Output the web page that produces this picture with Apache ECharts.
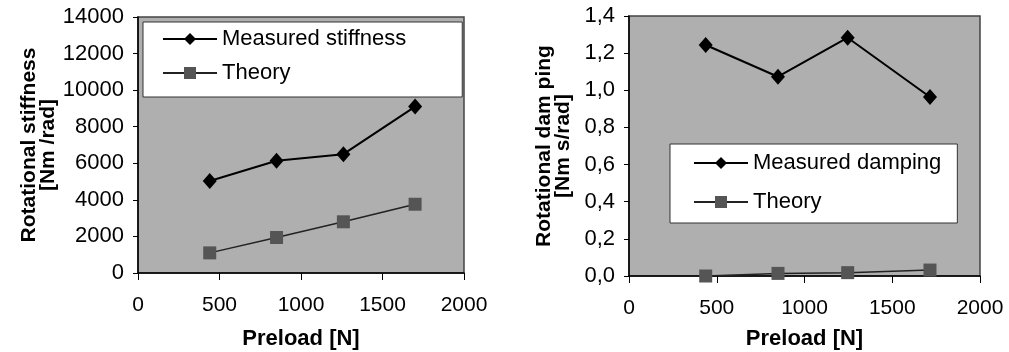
<!DOCTYPE html>
<html><head><meta charset="utf-8">
<script src="https://cdn.jsdelivr.net/npm/echarts@6/dist/echarts.min.js"></script>
<style>html,body{margin:0;padding:0;background:#fff}#c{width:1009px;height:352px}</style>
</head><body><div id="c"></div>
<script>
const preload = [440, 850, 1260, 1700];
const measuredStiffness = [5030, 6140, 6500, 9100];
const theoryStiffness = [1100, 1940, 2800, 3760];
const preloadDamping = [437, 849, 1246, 1715];
const measuredDamping = [1.244, 1.073, 1.283, 0.964];
const theoryDamping = [0.0, 0.014, 0.018, 0.032];
const xTicks = [0, 500, 1000, 1500, 2000];

const pairs = (xs, ys) => xs.map((x, i) => [x, ys[i]]);
const FONT = 'Liberation Sans, Arial, sans-serif';
const tickStyle = { fontFamily: FONT, fontSize: 22, color: '#000' };
const nameStyle = { fontFamily: FONT, fontSize: 21, fontWeight: 'bold', color: '#000', lineHeight: 19 };
const plotBg = '#afafaf';

function xAxis(gridIndex, gap) {
  return {
    type: 'value', gridIndex, min: 0, max: 2000, interval: 500,
    name: 'Preload [N]', nameLocation: 'middle', nameGap: gap,
    nameTextStyle: Object.assign({}, nameStyle, { fontSize: 22 }),
    axisLine: { show: true, onZero: false, lineStyle: { color: '#000', width: 1.5 } },
    axisTick: { show: true, length: 7, lineStyle: { color: '#000' } },
    axisLabel: Object.assign({ margin: 22, formatter: v => xTicks.includes(v) ? String(v) : '' }, tickStyle, { fontSize: 21 }),
    splitLine: { show: false }
  };
}

const chart = echarts.init(document.getElementById('c'), null, { renderer: 'canvas' });
chart.setOption({
  animation: false,
  backgroundColor: '#fff',
  grid: [
    { left: 138, right: 545, top: 17, bottom: 79, outerBoundsMode: 'none', containLabel: false, show: true, backgroundColor: plotBg, borderColor: '#444', borderWidth: 1.5 },
    { left: 629, right: 29, top: 16, bottom: 76, outerBoundsMode: 'none', containLabel: false, show: true, backgroundColor: plotBg, borderColor: '#444', borderWidth: 1.5 }
  ],
  xAxis: [xAxis(0, 56), xAxis(1, 53)],
  yAxis: [
    {
      type: 'value', gridIndex: 0, min: 0, max: 14000, interval: 2000,
      name: 'Rotational stiffness\n[Nm /rad]', nameLocation: 'middle', nameRotate: 90, nameGap: 73,
      nameTextStyle: nameStyle,
      axisLine: { show: true, lineStyle: { color: '#000', width: 1.5 } },
      axisTick: { show: true, length: 5, lineStyle: { color: '#000' } },
      axisLabel: Object.assign({ margin: 14, formatter: v => String(v) }, tickStyle),
      splitLine: { show: false }
    },
    {
      type: 'value', gridIndex: 1, min: 0, max: 1.4, interval: 0.2,
      name: 'Rotational dam ping\n[Nm s/rad]', nameLocation: 'middle', nameRotate: 90, nameGap: 56,
      nameTextStyle: nameStyle,
      axisLine: { show: true, lineStyle: { color: '#000', width: 1.5 } },
      axisTick: { show: true, length: 5, lineStyle: { color: '#000' } },
      axisLabel: Object.assign({ margin: 14, formatter: v => v.toFixed(1).replace('.', ',') }, tickStyle),
      splitLine: { show: false }
    }
  ],
  legend: [
    {
      orient: 'vertical', left: 143, top: 22, padding: [6, 56, 13, 19], itemGap: 12,
      itemWidth: 54, itemHeight: 15, itemTextGap: 7,
      backgroundColor: '#fff', borderColor: '#333', borderWidth: 1,
      textStyle: { fontFamily: FONT, fontSize: 22, color: '#000' },
      data: ['Measured stiffness', 'Theory']
    },
    {
      orient: 'vertical', left: 670, top: 144, padding: [8, 16, 10, 23], itemGap: 17,
      itemWidth: 54, itemHeight: 15, itemTextGap: 7,
      backgroundColor: '#fff', borderColor: '#333', borderWidth: 1,
      textStyle: { fontFamily: FONT, fontSize: 22, color: '#000' },
      data: ['Measured damping', 'Theory ']
    }
  ],
  series: [
    { name: 'Measured stiffness', type: 'line', xAxisIndex: 0, yAxisIndex: 0, data: pairs(preload, measuredStiffness),
      symbol: 'diamond', symbolSize: [14, 16], lineStyle: { color: '#000', width: 2 }, itemStyle: { color: '#000' } },
    { name: 'Theory', type: 'line', xAxisIndex: 0, yAxisIndex: 0, data: pairs(preload, theoryStiffness),
      symbol: 'rect', symbolSize: 13, lineStyle: { color: '#222', width: 1.5 }, itemStyle: { color: '#555' } },
    { name: 'Measured damping', type: 'line', xAxisIndex: 1, yAxisIndex: 1, data: pairs(preloadDamping, measuredDamping),
      symbol: 'diamond', symbolSize: [14, 16], lineStyle: { color: '#000', width: 2 }, itemStyle: { color: '#000' } },
    { name: 'Theory ', type: 'line', xAxisIndex: 1, yAxisIndex: 1, data: pairs(preloadDamping, theoryDamping),
      symbol: 'rect', symbolSize: 13, lineStyle: { color: '#222', width: 1.5 }, itemStyle: { color: '#555' } }
  ]
});
</script></body></html>
